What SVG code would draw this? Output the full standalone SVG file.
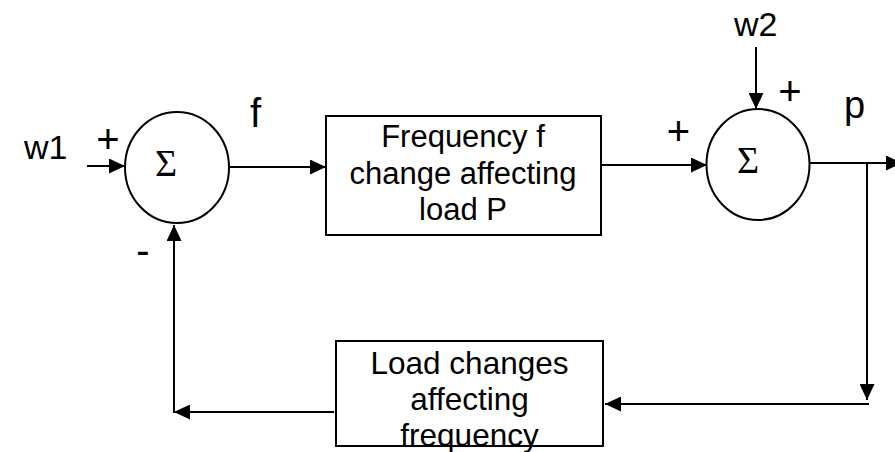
<svg xmlns="http://www.w3.org/2000/svg" width="895" height="452" viewBox="0 0 895 452">
<style>
.ln{fill:none;stroke:#000;stroke-width:2}
.nd{fill:#fff;stroke:#000;stroke-width:2}
.t{font-family:"Liberation Sans",Arial,sans-serif;fill:#000}
.s{font-family:"Liberation Serif","Times New Roman",serif;font-size:38px;fill:#000}
</style>
<defs>
<marker id="ah" markerUnits="userSpaceOnUse" markerWidth="16" markerHeight="15" refX="16" refY="7.5" orient="auto" viewBox="0 0 16 15">
<path d="M0,0 L16,7.5 L0,15 z" fill="#000"/>
</marker>
</defs>
<rect width="895" height="452" fill="#fff"/>
<g id="connectors">
<path class="ln" d="M87,166 L125,166" marker-end="url(#ah)"/>
<path class="ln" d="M229,167 L326,167" marker-end="url(#ah)"/>
<path class="ln" d="M601,165 L707,165" marker-end="url(#ah)"/>
<path class="ln" d="M756,47 L756,109" marker-end="url(#ah)"/>
<path class="ln" d="M809,163 L902,163" marker-end="url(#ah)"/>
<path class="ln" d="M867,163 L867,400" marker-end="url(#ah)"/>
<path class="ln" d="M869,404 L605,404" marker-end="url(#ah)"/>
<path class="ln" d="M334,412 L174,412" marker-end="url(#ah)"/>
<path class="ln" d="M174,413 L174,225" marker-end="url(#ah)"/>
</g>
<g id="sum1">
<ellipse class="nd" cx="177" cy="167.5" rx="52" ry="55.5"/>
<text class="s" x="155" y="176">Σ</text>
</g>
<g id="sum2">
<ellipse class="nd" cx="758" cy="164.5" rx="51.5" ry="55.5"/>
<text class="s" x="737" y="173">Σ</text>
</g>
<g id="block1">
<rect class="nd" x="326" y="116" width="275" height="119"/>
<text class="t" font-size="31" text-anchor="middle"><tspan x="463" y="147">Frequency f</tspan><tspan x="463" y="183.5">change affecting</tspan><tspan x="463" y="220">load P</tspan></text>
</g>
<g id="block2">
<rect class="nd" x="336" y="341" width="267" height="105"/>
<text class="t" font-size="31.5" text-anchor="middle"><tspan x="469.5" y="374">Load changes</tspan><tspan x="469.5" y="410">affecting</tspan><tspan x="469.5" y="446">frequency</tspan></text>
</g>
<g id="labels">
<text class="t" font-size="34" x="24" y="159">w1</text>
<text class="t" font-size="34" x="734" y="36">w2</text>
<text class="t" font-size="40" x="250" y="127">f</text>
<text class="t" font-size="38" x="844" y="118">p</text>
<text class="t" font-size="40" x="108" y="153" text-anchor="middle">+</text>
<text class="t" font-size="40" x="678.5" y="145" text-anchor="middle">+</text>
<text class="t" font-size="40" x="790" y="104.5" text-anchor="middle">+</text>
<text class="t" font-size="40" x="143" y="264" text-anchor="middle">-</text>
</g>
</svg>
